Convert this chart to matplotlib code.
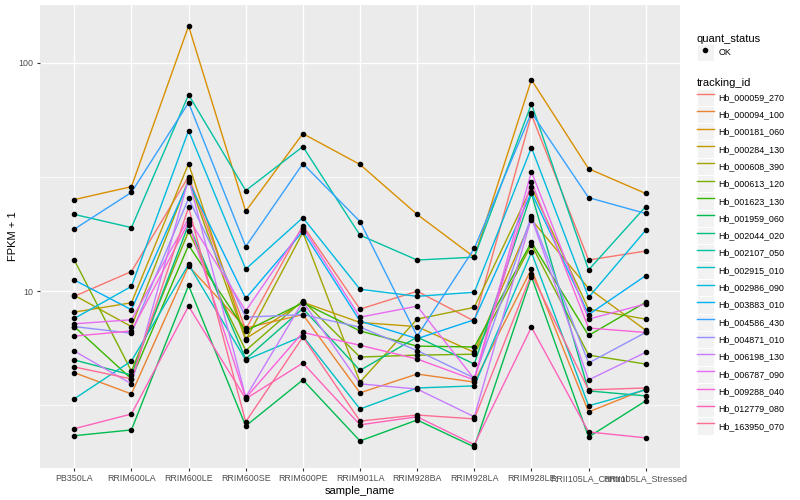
import numpy as np
import matplotlib.pyplot as plt
from matplotlib.lines import Line2D
from matplotlib.patches import Patch
from matplotlib.legend_handler import HandlerTuple

plt.rcParams['font.family'] = ['Liberation Sans', 'DejaVu Sans']

# Samples on the x axis
samples = ['PB350LA', 'RRIM600LA', 'RRIM600LE', 'RRIM600SE', 'RRIM600PE', 'RRIM901LA',
           'RRIM928BA', 'RRIM928LA', 'RRIM928LE', 'RRII105LA_Control', 'RRII105LA_Stressed']

# FPKM + 1 values per gene (one value per sample)
hb_000059_270 = [9.5, 12.2, 31.8, 6.8, 19.4, 8.35, 10.0, 7.4, 59.3, 13.7, 15.0]
hb_000094_100 = [4.4, 3.55, 12.9, 6.9, 7.9, 3.59, 4.34, 4.0, 12.5, 2.96, 3.73]
hb_000181_060 = [25.2, 28.7, 145, 22.4, 49.0, 35.9, 21.7, 14.1, 84.3, 34.4, 26.8]
hb_000284_130 = [8.1, 8.9, 36.2, 6.2, 8.95, 7.3, 7.0, 5.4, 20.6, 10.3, 6.75]
hb_000608_390 = [9.6, 7.0, 30.8, 6.1, 18.1, 4.0, 7.55, 8.5, 28.5, 8.35, 7.55]
hb_000613_120 = [13.7, 4.47, 18.3, 5.5, 9.1, 5.15, 5.25, 5.3, 16.0, 5.25, 4.8]
hb_001623_130 = [7.0, 4.13, 15.9, 6.7, 8.9, 6.7, 5.75, 5.7, 16.4, 6.4, 8.95]
hb_001959_060 = [2.33, 2.47, 10.6, 2.57, 4.09, 2.21, 2.73, 2.08, 11.6, 2.3, 3.31]
hb_002044_020 = [5.0, 4.3, 19.6, 5.05, 8.4, 4.5, 6.3, 4.8, 26.8, 3.66, 3.48]
hb_002107_050 = [21.7, 19.0, 72.5, 27.6, 43.0, 17.6, 13.7, 14.1, 66.2, 12.4, 23.5]
hb_002915_010 = [3.38, 4.95, 13.1, 5.0, 6.36, 3.05, 3.77, 3.85, 14.8, 3.15, 3.7]
hb_002986_090 = [7.6, 10.5, 50.5, 12.5, 21.0, 10.2, 9.5, 9.9, 42.6, 9.4, 18.5]
hb_003883_010 = [11.2, 8.3, 30.2, 9.3, 18.3, 7.4, 6.2, 7.5, 27.1, 7.9, 11.7]
hb_004586_430 = [18.7, 27.1, 66.9, 15.7, 36.2, 20.2, 6.36, 15.4, 60.5, 25.7, 21.9]
hb_004871_010 = [7.0, 6.55, 25.5, 7.7, 7.9, 6.96, 5.5, 4.17, 21.3, 4.85, 6.6]
hb_006198_130 = [5.47, 3.93, 31.1, 3.44, 9.0, 3.93, 3.73, 2.82, 21.0, 4.09, 5.4]
hb_006787_090 = [7.2, 7.5, 20.8, 8.2, 19.0, 7.7, 8.6, 4.13, 33.4, 7.55, 8.8]
hb_009288_040 = [6.36, 6.7, 20.0, 3.41, 6.6, 5.8, 5.05, 4.09, 30.2, 6.9, 6.6]
hb_012779_080 = [2.5, 2.9, 8.6, 3.38, 4.85, 2.6, 2.82, 2.13, 6.96, 2.42, 2.28]
hb_163950_070 = [4.66, 4.13, 23.3, 2.68, 6.3, 2.7, 2.87, 2.76, 11.9, 3.7, 3.77]

tracking_ids = ['Hb_000059_270', 'Hb_000094_100', 'Hb_000181_060', 'Hb_000284_130',
                'Hb_000608_390', 'Hb_000613_120', 'Hb_001623_130', 'Hb_001959_060',
                'Hb_002044_020', 'Hb_002107_050', 'Hb_002915_010', 'Hb_002986_090',
                'Hb_003883_010', 'Hb_004586_430', 'Hb_004871_010', 'Hb_006198_130',
                'Hb_006787_090', 'Hb_009288_040', 'Hb_012779_080', 'Hb_163950_070']
series = [hb_000059_270, hb_000094_100, hb_000181_060, hb_000284_130, hb_000608_390,
          hb_000613_120, hb_001623_130, hb_001959_060, hb_002044_020, hb_002107_050,
          hb_002915_010, hb_002986_090, hb_003883_010, hb_004586_430, hb_004871_010,
          hb_006198_130, hb_006787_090, hb_009288_040, hb_012779_080, hb_163950_070]

# ggplot2 default hue palette for 20 levels
colors = ['#F8766D', '#EA8331', '#D89000', '#C09B00', '#A3A500', '#7CAE00', '#39B600',
          '#00BB4E', '#00BF7D', '#00C1A3', '#00BFC4', '#00BAE0', '#00B0F6', '#35A2FF',
          '#9590FF', '#C77CFF', '#E76BF3', '#FA62DB', '#FF62BC', '#FF6C91']

fig = plt.figure(figsize=(8, 5), dpi=100)
ax = fig.add_axes([0.05, 0.064, 0.80, 0.926])
ax.set_facecolor('#EBEBEB')

x = np.arange(len(samples))
for vals, col in zip(series, colors):
    ax.plot(x, vals, color=col, linewidth=1.0, zorder=2)
for vals in series:
    ax.plot(x, vals, linestyle='none', marker='o', markersize=3.0, color='black', zorder=3)

# log scale with ggplot-like 5% expansion
ax.set_yscale('log')
all_vals = np.concatenate([np.array(s) for s in series])
lo, hi = np.log10(all_vals.min()), np.log10(all_vals.max())
pad = 0.05 * (hi - lo)
ax.set_ylim(10 ** (lo - pad), 10 ** (hi + pad))
ax.set_xlim(-0.6, len(samples) - 1 + 0.6)

ax.set_yticks([10, 100])
ax.set_yticklabels(['10', '100'])
ax.set_yticks([10 ** 0.5, 10 ** 1.5], minor=True)
ax.yaxis.set_minor_formatter(plt.NullFormatter())
ax.set_xticks(x)
ax.set_xticklabels(samples)

ax.grid(True, which='major', color='white', linewidth=1.0, zorder=0)
ax.grid(True, which='minor', axis='y', color='white', linewidth=0.5, zorder=0)
ax.set_axisbelow(True)
for s in ax.spines.values():
    s.set_visible(False)
ax.tick_params(which='major', length=2.5, color='#333333', labelsize=6.4, labelcolor='#4D4D4D', pad=2)
ax.tick_params(which='minor', length=0)

ax.set_xlabel('sample_name', fontsize=8, labelpad=2)
ax.set_ylabel('FPKM + 1', fontsize=8, labelpad=0.5)

# legends (grey key box with the line or point drawn over it)
leg_kw = dict(loc='upper left', frameon=False, fontsize=6.4, title_fontsize=8,
              handlelength=1.95, handleheight=2.62, handletextpad=0.45,
              labelspacing=0, borderpad=0, borderaxespad=0,
              handler_map={tuple: HandlerTuple(ndivide=1, pad=0)})

ok_handle = (Patch(facecolor='#F2F2F2', edgecolor='white', linewidth=0.8),
             Line2D([], [], linestyle='none', marker='o', markersize=3.0, color='black'))
leg1 = fig.legend([ok_handle], ['OK'], title='quant_status',
                  bbox_to_anchor=(0.871, 0.932), **leg_kw)
leg1._legend_box.align = 'left'

gene_handles = [(Patch(facecolor='#F2F2F2', edgecolor='white', linewidth=0.8),
                 Line2D([], [], color=c, linewidth=1.0)) for c in colors]
leg2 = fig.legend(gene_handles, tracking_ids, title='tracking_id',
                  bbox_to_anchor=(0.871, 0.843), **leg_kw)
leg2._legend_box.align = 'left'

fig.savefig('out.png', dpi=100)
